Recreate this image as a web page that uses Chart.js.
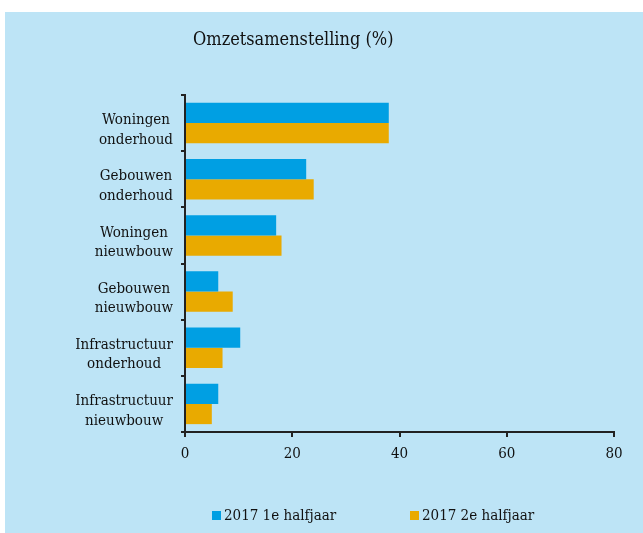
<!DOCTYPE html>
<html>
<head>
<meta charset="utf-8">
<script src="https://cdn.jsdelivr.net/npm/chart.js@4/dist/chart.umd.min.js"></script>
<style>
    html, body { margin: 0; padding: 0; background: #fff; }
    #panel { position: absolute; left: 5px; top: 12px; width: 638px; height: 521px; background: #bde4f6; }
    #chart { position: absolute; left: 0; top: 0; }
    #title { position: absolute; left: 188px; top: 16px; font: 18px "DejaVu Serif Condensed", "DejaVu Serif", serif; color: #111; }
    #legend { position: absolute; top: 494px; font: 15px "DejaVu Serif Condensed", "DejaVu Serif", serif; color: #111; }
    .item { position: absolute; white-space: nowrap; }
    .swatch { display: inline-block; width: 9px; height: 9px; margin-right: 3px; }
</style>
</head>
<body>
<div id="panel">
    <canvas id="chart" width="638" height="521"></canvas>
    <div id="title">Omzetsamenstelling (%)</div>
    <div id="legend"></div>
</div>
<script>
// Categories (two-line labels)
const categories = [
    ['Woningen', 'onderhoud'],
    ['Gebouwen', 'onderhoud'],
    ['Woningen', 'nieuwbouw'],
    ['Gebouwen', 'nieuwbouw'],
    ['Infrastructuur', 'onderhoud'],
    ['Infrastructuur', 'nieuwbouw']
];
const seriesNames = ['2017 1e halfjaar', '2017 2e halfjaar'];
const firstHalf = [38, 22.6, 17, 6.2, 10.3, 6.2];
const secondHalf = [38, 24, 18, 8.9, 7, 5];
const xTicks = [0, 20, 40, 60, 80];

const BLUE = '#009fe3';
const ORANGE = '#e9aa00';
const AXIS = '#222222';
const FONT = '"DejaVu Serif Condensed", "DejaVu Serif", serif';

// Simple legend below the chart
(function buildLegend() {
    const legend = document.getElementById('legend');
    const colors = [BLUE, ORANGE];
    const lefts = [207, 405];
    seriesNames.forEach((name, i) => {
        const el = document.createElement('div');
        el.className = 'item';
        el.style.left = lefts[i] + 'px';
        el.innerHTML = '<span class="swatch" style="background:' + colors[i] + '"></span>' + name;
        legend.appendChild(el);
    });
})();

// Category labels: each block right-aligned to the axis, its lines centered on each other
const categoryLabels = {
    id: 'categoryLabels',
    afterDraw(chart) {
        const scale = chart.scales.y;
        const ctx = chart.ctx;
        const lineHeight = 19.5;
        const rightEdge = 168;
        ctx.save();
        ctx.font = '15px ' + FONT;
        ctx.fillStyle = '#111';
        ctx.textAlign = 'center';
        ctx.textBaseline = 'middle';
        scale.getLabels().forEach((lines, i) => {
            const cy = scale.getPixelForValue(i) + 7;
            const w = Math.max(...lines.map(t => ctx.measureText(t).width));
            const cx = rightEdge - w / 2;
            lines.forEach((t, j) => {
                ctx.fillText(t, cx, cy + (j - (lines.length - 1) / 2) * lineHeight);
            });
        });
        ctx.restore();
    }
};

new Chart(document.getElementById('chart').getContext('2d'), {
    type: 'bar',
    data: {
        labels: categories,
        datasets: [
            { label: seriesNames[0], data: firstHalf, backgroundColor: BLUE },
            { label: seriesNames[1], data: secondHalf, backgroundColor: ORANGE }
        ]
    },
    options: {
        indexAxis: 'y',
        responsive: false,
        animation: false,
        layout: { padding: { left: 0, right: 29, top: 83, bottom: 61 } },
        datasets: { bar: { categoryPercentage: 0.72, barPercentage: 1.0 } },
        plugins: {
            legend: { display: false },
            title: { display: false },
            tooltip: { enabled: false }
        },
        scales: {
            x: {
                min: 0,
                max: 80,
                afterBuildTicks: s => { s.ticks = xTicks.map(v => ({ value: v })); },
                afterFit: s => { s.height = 40; },
                border: { color: AXIS, width: 2 },
                grid: { display: true, drawOnChartArea: false, drawTicks: true, tickLength: 5, color: AXIS, lineWidth: 2 },
                ticks: { color: '#111', font: { family: FONT, size: 15 }, padding: 8, maxRotation: 0 }
            },
            y: {
                afterFit: s => { s.width = 180; },
                border: { color: AXIS, width: 2 },
                grid: { display: true, drawOnChartArea: false, drawTicks: true, tickLength: 4, color: AXIS, lineWidth: 2, offset: true },
                ticks: { display: false }
            }
        }
    },
    plugins: [categoryLabels]
});
</script>
</body>
</html>
